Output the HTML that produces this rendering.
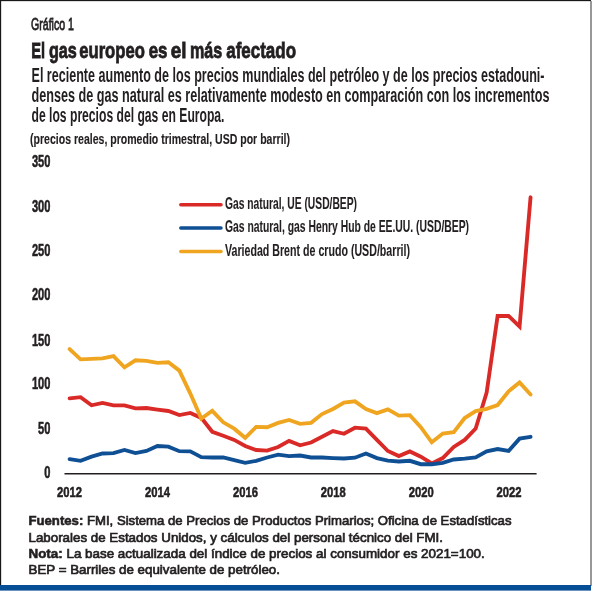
<!DOCTYPE html>
<html><head><meta charset="utf-8"><style>
html,body{margin:0;padding:0;background:#fff;width:592px;height:592px;overflow:hidden}
svg{display:block;will-change:transform}
text{font-family:"Liberation Sans",sans-serif;fill:#231f20}
</style></head><body>
<svg width="592" height="592" viewBox="0 0 592 592">
<rect x="0" y="0" width="592" height="592" fill="#fff"/>
<rect x="0" y="0" width="591" height="1.15" fill="#1a1718"/>
<rect x="0" y="0" width="1.15" height="586" fill="#1a1718"/>
<rect x="590" y="1" width="2" height="585" fill="#9a9897"/>
<rect x="0" y="585" width="591" height="5.6" fill="#064e95"/>
<line x1="64.5" y1="473.7" x2="536.6" y2="473.7" stroke="#231f20" stroke-width="1.4"/>
<polyline points="69.60,398.40 80.57,397.20 91.55,405.30 102.52,402.90 113.50,405.30 124.47,405.30 135.45,408.40 146.43,408.00 157.40,409.60 168.38,411.00 179.35,415.10 190.32,412.90 201.30,417.90 212.27,431.80 223.25,435.80 234.22,439.90 245.20,446.00 256.17,450.00 267.15,450.60 278.12,447.00 289.10,440.90 300.07,445.30 311.05,442.50 322.02,436.80 333.00,431.10 343.98,433.80 354.95,427.70 365.92,428.70 376.90,439.90 387.88,451.00 398.85,456.10 409.82,451.40 420.80,456.70 431.77,463.50 442.75,458.10 453.73,447.00 464.70,439.90 475.67,428.60 486.65,392.60 497.62,316.00 508.60,316.00 519.57,326.60 530.55,197.30" fill="none" stroke="#da2a27" stroke-width="3.85" stroke-linejoin="miter" stroke-miterlimit="3" stroke-linecap="round"/>
<polyline points="69.60,459.10 80.57,460.80 91.55,456.70 102.52,453.50 113.50,453.10 124.47,450.00 135.45,453.10 146.43,451.00 157.40,446.00 168.38,446.60 179.35,451.20 190.32,451.40 201.30,457.10 212.27,457.50 223.25,457.50 234.22,460.20 245.20,462.80 256.17,460.80 267.15,457.50 278.12,454.70 289.10,456.10 300.07,455.50 311.05,457.50 322.02,457.50 333.00,458.10 343.98,458.50 354.95,457.70 365.92,453.50 376.90,458.10 387.88,460.60 398.85,461.50 409.82,460.80 420.80,464.20 431.77,464.20 442.75,462.80 453.73,459.50 464.70,458.70 475.67,457.50 486.65,451.40 497.62,449.00 508.60,451.00 519.57,438.60 530.55,436.80" fill="none" stroke="#0f4f94" stroke-width="3.85" stroke-linejoin="miter" stroke-miterlimit="3" stroke-linecap="round"/>
<polyline points="69.60,349.10 80.57,359.30 91.55,358.90 102.52,358.40 113.50,356.20 124.47,367.40 135.45,360.30 146.43,360.90 157.40,362.90 168.38,362.30 179.35,370.60 190.32,393.60 201.30,418.60 212.27,410.80 223.25,422.30 234.22,428.70 245.20,437.80 256.17,426.90 267.15,427.20 278.12,422.90 289.10,419.90 300.07,423.80 311.05,422.80 322.02,414.10 333.00,409.00 343.98,402.50 354.95,401.30 365.92,409.00 376.90,413.10 387.88,409.40 398.85,415.60 409.82,415.20 420.80,427.10 431.77,442.30 442.75,433.60 453.73,432.20 464.70,418.00 475.67,411.10 486.65,408.90 497.62,405.00 508.60,391.30 519.57,382.40 530.55,394.50" fill="none" stroke="#efa520" stroke-width="3.85" stroke-linejoin="miter" stroke-miterlimit="3" stroke-linecap="round"/>
<line x1="180.8" y1="204.8" x2="221" y2="204.8" stroke="#da2a27" stroke-width="3.5" stroke-linecap="round"/>
<line x1="180.8" y1="228.0" x2="221" y2="228.0" stroke="#0f4f94" stroke-width="3.5" stroke-linecap="round"/>
<line x1="180.8" y1="251.5" x2="221" y2="251.5" stroke="#efa520" stroke-width="3.5" stroke-linecap="round"/>
<text x="31" y="29.7" font-size="17" stroke="#231f20" stroke-width="0.8" textLength="43" lengthAdjust="spacingAndGlyphs">Gráfico 1</text>
<text x="31.29" y="57.8" font-size="22.5" stroke="#231f20" stroke-width="0.8" font-weight="bold" textLength="13.83" lengthAdjust="spacingAndGlyphs">El</text>
<text x="48.96" y="57.8" font-size="22.5" stroke="#231f20" stroke-width="0.8" font-weight="bold" textLength="27.9" lengthAdjust="spacingAndGlyphs">gas</text>
<text x="79.23" y="57.8" font-size="22.5" stroke="#231f20" stroke-width="0.8" font-weight="bold" textLength="65.65" lengthAdjust="spacingAndGlyphs">europeo</text>
<text x="148.63" y="57.8" font-size="22.5" stroke="#231f20" stroke-width="0.8" font-weight="bold" textLength="18.76" lengthAdjust="spacingAndGlyphs">es</text>
<text x="170.78" y="57.8" font-size="22.5" stroke="#231f20" stroke-width="0.8" font-weight="bold" textLength="15.79" lengthAdjust="spacingAndGlyphs">el</text>
<text x="190.0" y="57.8" font-size="22.5" stroke="#231f20" stroke-width="0.8" font-weight="bold" textLength="32.26" lengthAdjust="spacingAndGlyphs">más</text>
<text x="226.21" y="57.8" font-size="22.5" stroke="#231f20" stroke-width="0.8" font-weight="bold" textLength="69.79" lengthAdjust="spacingAndGlyphs">afectado</text>
<text x="31.5" y="81.7" font-size="20" font-weight="bold" textLength="513" lengthAdjust="spacingAndGlyphs">El reciente aumento de los precios mundiales del petróleo y de los precios estadouni-</text>
<text x="31.5" y="102.3" font-size="20" font-weight="bold" textLength="518" lengthAdjust="spacingAndGlyphs">denses de gas natural es relativamente modesto en comparación con los incrementos</text>
<text x="31.5" y="122.4" font-size="20" font-weight="bold" textLength="193" lengthAdjust="spacingAndGlyphs">de los precios del gas en Europa.</text>
<text x="30" y="143.6" font-size="15.5" stroke="#231f20" stroke-width="0.15" font-weight="bold" textLength="260" lengthAdjust="spacingAndGlyphs">(precios reales, promedio trimestral, USD por barril)</text>
<text x="50.4" y="166.75" font-size="16" stroke="#231f20" stroke-width="0.55" font-weight="bold" text-anchor="end" textLength="18.5" lengthAdjust="spacingAndGlyphs">350</text>
<text x="50.4" y="211.5" font-size="16" stroke="#231f20" stroke-width="0.55" font-weight="bold" text-anchor="end" textLength="18.5" lengthAdjust="spacingAndGlyphs">300</text>
<text x="50.4" y="255.75" font-size="16" stroke="#231f20" stroke-width="0.55" font-weight="bold" text-anchor="end" textLength="18.5" lengthAdjust="spacingAndGlyphs">250</text>
<text x="50.4" y="300.2" font-size="16" stroke="#231f20" stroke-width="0.55" font-weight="bold" text-anchor="end" textLength="18.5" lengthAdjust="spacingAndGlyphs">200</text>
<text x="50.4" y="345.7" font-size="16" stroke="#231f20" stroke-width="0.55" font-weight="bold" text-anchor="end" textLength="18.5" lengthAdjust="spacingAndGlyphs">150</text>
<text x="50.4" y="389.1" font-size="16" stroke="#231f20" stroke-width="0.55" font-weight="bold" text-anchor="end" textLength="18.5" lengthAdjust="spacingAndGlyphs">100</text>
<text x="50.4" y="433.8" font-size="16" stroke="#231f20" stroke-width="0.55" font-weight="bold" text-anchor="end" textLength="12.33" lengthAdjust="spacingAndGlyphs">50</text>
<text x="50.4" y="478.2" font-size="16" stroke="#231f20" stroke-width="0.55" font-weight="bold" text-anchor="end" textLength="6.17" lengthAdjust="spacingAndGlyphs">0</text>
<text x="69.6" y="497.2" font-size="15.5" stroke="#231f20" stroke-width="0.55" font-weight="bold" text-anchor="middle" textLength="25" lengthAdjust="spacingAndGlyphs">2012</text>
<text x="157.5" y="497.2" font-size="15.5" stroke="#231f20" stroke-width="0.55" font-weight="bold" text-anchor="middle" textLength="25" lengthAdjust="spacingAndGlyphs">2014</text>
<text x="245.41" y="497.2" font-size="15.5" stroke="#231f20" stroke-width="0.55" font-weight="bold" text-anchor="middle" textLength="25" lengthAdjust="spacingAndGlyphs">2016</text>
<text x="333.31" y="497.2" font-size="15.5" stroke="#231f20" stroke-width="0.55" font-weight="bold" text-anchor="middle" textLength="25" lengthAdjust="spacingAndGlyphs">2018</text>
<text x="421.22" y="497.2" font-size="15.5" stroke="#231f20" stroke-width="0.55" font-weight="bold" text-anchor="middle" textLength="25" lengthAdjust="spacingAndGlyphs">2020</text>
<text x="509.12" y="497.2" font-size="15.5" stroke="#231f20" stroke-width="0.55" font-weight="bold" text-anchor="middle" textLength="25" lengthAdjust="spacingAndGlyphs">2022</text>
<text x="225" y="208.7" font-size="16.5" stroke="#231f20" stroke-width="0.1" font-weight="bold" textLength="132" lengthAdjust="spacingAndGlyphs">Gas natural, UE (USD/BEP)</text>
<text x="225" y="232.0" font-size="16.5" stroke="#231f20" stroke-width="0.1" font-weight="bold" textLength="244" lengthAdjust="spacingAndGlyphs">Gas natural, gas Henry Hub de EE.UU. (USD/BEP)</text>
<text x="225" y="255.7" font-size="16.5" stroke="#231f20" stroke-width="0.1" font-weight="bold" textLength="185" lengthAdjust="spacingAndGlyphs">Variedad Brent de crudo (USD/barril)</text>
<text x="28.5" y="525.3" font-size="13.5" stroke="#231f20" stroke-width="0.7" textLength="483" lengthAdjust="spacingAndGlyphs"><tspan font-weight="bold" stroke-width="0.6">Fuentes:</tspan> FMI, Sistema de Precios de Productos Primarios; Oficina de Estadísticas</text>
<text x="28.5" y="541.5" font-size="13.5" stroke="#231f20" stroke-width="0.7" textLength="414.5" lengthAdjust="spacingAndGlyphs">Laborales de Estados Unidos, y cálculos del personal técnico del FMI.</text>
<text x="28.5" y="557.7" font-size="13.5" stroke="#231f20" stroke-width="0.7" textLength="456.3" lengthAdjust="spacingAndGlyphs"><tspan font-weight="bold" stroke-width="0.6">Nota:</tspan> La base actualizada del índice de precios al consumidor es 2021=100.</text>
<text x="28.5" y="574.0" font-size="13.5" stroke="#231f20" stroke-width="0.7" textLength="251.5" lengthAdjust="spacingAndGlyphs">BEP = Barriles de equivalente de petróleo.</text>
</svg>
</body></html>
